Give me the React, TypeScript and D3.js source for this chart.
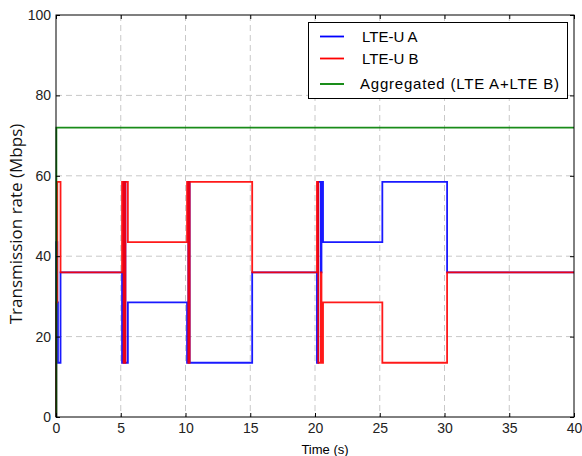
import React, { useEffect, useRef } from 'react';
import * as d3 from 'd3';

// time (s) where the rate changes, and the rate (Mbps) from that time on
const timeA = [0, 0.02, 0.1, 0.15, 0.35, 5.1, 5.22, 5.36, 5.55, 10.12, 10.22, 10.32, 15.15, 20.15, 20.25, 20.45, 20.5, 20.62, 25.2, 30.2, 40];
const rateA = [0, 43.5, 28.5, 13.5, 36, 13.5, 58.5, 13.5, 28.5, 13.5, 58.5, 13.5, 36, 13.5, 58.5, 36, 58.5, 43.5, 58.5, 36, 36];

const timeB = [0, 0.02, 0.1, 0.35, 5.1, 5.22, 5.36, 5.55, 10.12, 10.22, 10.32, 15.15, 20.15, 20.25, 20.45, 20.5, 20.62, 25.2, 30.2, 40];
const rateB = [0, 28.5, 58.5, 36, 58.5, 13.5, 58.5, 43.5, 58.5, 13.5, 58.5, 36, 58.5, 13.5, 36, 13.5, 28.5, 13.5, 36, 36];

const timeAgg = [0, 0.03, 40];
const rateAgg = [0, 72, 72];

const seriesNames = ['LTE-U A', 'LTE-U B', 'Aggregated (LTE A+LTE B)'];
const xTicks = [0, 5, 10, 15, 20, 25, 30, 35, 40];
const yTicks = [0, 20, 40, 60, 80, 100];

const colors = ['#0000ff', '#ff0000', '#008000'];
const W = 582, H = 456;
const left = 56, right = 574, top = 15, bottom = 417;

export default function App() {
    const ref = useRef<SVGSVGElement>(null);

    useEffect(() => {
        const svg = d3.select(ref.current);
        svg.selectAll('*').remove();

        const x = d3.scaleLinear().domain([0, 40]).range([left, right]);
        const y = d3.scaleLinear().domain([0, 100]).range([bottom, top]);

        svg.append('rect').attr('width', W).attr('height', H).attr('fill', '#fff');

        // grid
        const grid = svg.append('g')
            .attr('stroke', '#c8c8c8')
            .attr('stroke-width', 1)
            .attr('stroke-dasharray', '6,4');
        grid.selectAll('.vg')
            .data(xTicks.slice(1, -1))
            .enter()
            .append('line')
            .attr('x1', d => x(d)).attr('x2', d => x(d))
            .attr('y1', top).attr('y2', bottom);
        grid.selectAll('.hg')
            .data(yTicks.slice(1, -1))
            .enter()
            .append('line')
            .attr('y1', d => y(d)).attr('y2', d => y(d))
            .attr('x1', left).attr('x2', right);

        // lines
        const line = d3.line<[number, number]>()
            .x(d => x(d[0]))
            .y(d => y(d[1]))
            .curve(d3.curveStepAfter);
        const series: [number, number][][] = [
            timeA.map((t, i) => [t, rateA[i]]),
            timeB.map((t, i) => [t, rateB[i]]),
            timeAgg.map((t, i) => [t, rateAgg[i]]),
        ];
        svg.append('g')
            .selectAll('path')
            .data(series)
            .enter()
            .append('path')
            .attr('d', d => line(d))
            .attr('fill', 'none')
            .attr('stroke', (d, i) => colors[i])
            .attr('stroke-width', 1.8)
            .attr('stroke-opacity', 0.9);

        const font = 'Liberation Sans, Arial, sans-serif';

        // axes with inward ticks
        const xAxis = svg.append('g')
            .attr('transform', `translate(0,${bottom})`)
            .call(d3.axisBottom(x).tickValues(xTicks).tickSizeInner(-4).tickSizeOuter(0).tickPadding(6));
        const yAxis = svg.append('g')
            .attr('transform', `translate(${left},0)`)
            .call(d3.axisLeft(y).tickValues(yTicks).tickSizeInner(-4).tickSizeOuter(0).tickPadding(5));
        svg.append('g')
            .attr('transform', `translate(0,${top})`)
            .call(d3.axisTop(x).tickValues(xTicks).tickSizeInner(-4).tickSizeOuter(0).tickFormat(() => ''));
        svg.append('g')
            .attr('transform', `translate(${right},0)`)
            .call(d3.axisRight(y).tickValues(yTicks).tickSizeInner(-4).tickSizeOuter(0).tickFormat(() => ''));
        svg.selectAll('.domain').remove();
        [xAxis, yAxis].forEach(a => a.selectAll('text')
            .attr('font-family', font)
            .attr('font-size', 14)
            .attr('fill', '#222'));

        // frame
        svg.append('rect')
            .attr('x', left).attr('y', top)
            .attr('width', right - left).attr('height', bottom - top)
            .attr('fill', 'none').attr('stroke', '#000').attr('stroke-width', 1);

        // axis titles
        svg.append('text')
            .attr('x', 325).attr('y', 454)
            .attr('text-anchor', 'middle')
            .attr('font-family', font)
            .attr('font-size', 13)
            .text('Time (s)');
        svg.append('text')
            .attr('transform', `translate(22,${(top + bottom) / 2 + 8}) rotate(-90)`)
            .attr('text-anchor', 'middle')
            .attr('font-family', 'Open Sans, sans-serif')
            .attr('font-size', 17)
            .attr('fill', '#111')
            .text('Transmission rate (Mbps)');

        // legend
        const lg = svg.append('g');
        lg.append('rect')
            .attr('x', 308.5).attr('y', 22.5)
            .attr('width', 259).attr('height', 76)
            .attr('fill', '#fff').attr('stroke', '#000');
        const rows = [36.5, 58.5, 84];
        seriesNames.forEach((name, i) => {
            lg.append('line')
                .attr('x1', 320).attr('x2', 344)
                .attr('y1', rows[i]).attr('y2', rows[i])
                .attr('stroke', colors[i]).attr('stroke-width', 1.8);
            const t = lg.append('text')
                .attr('x', i === 2 ? 360 : 362).attr('y', rows[i] + 5)
                .attr('font-family', font)
                .attr('font-size', 15)
                .text(name);
            if (i === 2) t.attr('textLength', 199).attr('lengthAdjust', 'spacing');
        });
    }, []);

    return (
        <div style={{ position: 'absolute', left: 0, top: 0 }}>
            <svg ref={ref} width={W} height={H} style={{ display: 'block' }} />
        </div>
    );
}
